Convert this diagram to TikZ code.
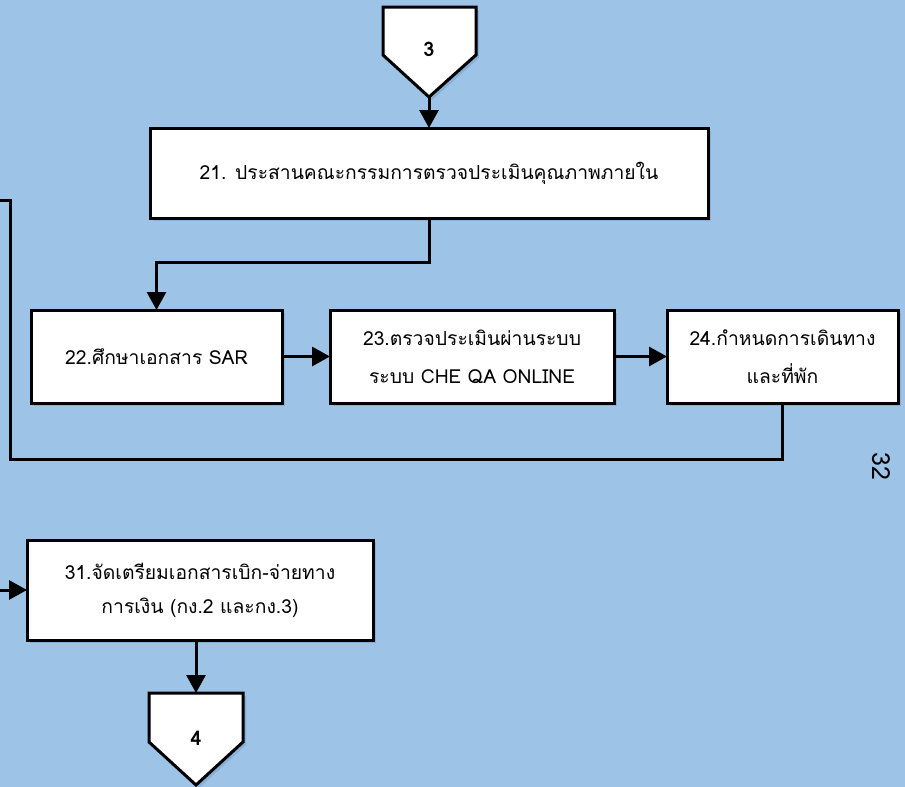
\documentclass[tikz,border=0pt]{standalone}
\usepackage{fontspec}
\newfontfamily\thaifont[Script=Thai]{Loma}
\usetikzlibrary{arrows.meta,shadows}
\definecolor{bgblue}{HTML}{9DC3E6}
\definecolor{shadowblue}{HTML}{88AFD6}
\begin{document}
\begin{tikzpicture}[x=1pt,y=-1pt,
  stepbox/.style={draw=black,fill=white,line width=3pt,inner sep=2pt,outer sep=0pt,
    align=center,font=\thaifont\fontsize{19.3pt}{38pt}\selectfont,
    drop shadow={shadow xshift=3pt,shadow yshift=-3pt,fill=shadowblue,opacity=1}},
  flow/.style={line width=3pt,-{Triangle[length=18pt,width=19pt]}},
  plainline/.style={line width=3pt},
  pent/.style={draw=black,fill=white,line width=3pt,line join=miter,
    drop shadow={shadow xshift=3pt,shadow yshift=-3pt,fill=shadowblue,opacity=1}},
  pentlabel/.style={font=\thaifont\bfseries\fontsize{20pt}{22pt}\selectfont,inner sep=0pt}]
% background
\fill[bgblue] (0,0) rectangle (905,787);
\useasboundingbox (0,0) rectangle (905,787);

% off-page connector 3
\path[pent] (383,7) -- (476,7) -- (476,55) -- (429,97) -- (383,55) -- cycle;
\node[pentlabel] (p3) at (429,49) {3};
\coordinate (p3tip) at (429,97);

% process boxes
\node[stepbox,minimum width=558pt,minimum height=90pt] (b21) at (429,173)
  {21. ประสานคณะกรรมการตรวจประเมินคุณภาพภายใน};
\node[stepbox,minimum width=251pt,minimum height=93pt] (b22) at (156.5,356.5)
  {22.ศึกษาเอกสาร SAR};
\node[stepbox,minimum width=284pt,minimum height=93pt] (b23) at (472,356.5)
  {23.ตรวจประเมินผ่านระบบ\\ระบบ CHE QA ONLINE};
\node[stepbox,minimum width=231pt,minimum height=93pt] (b24) at (782.5,356.5)
  {24.กำหนดการเดินทาง\\และที่พัก};
\node[stepbox,minimum width=346pt,minimum height=100pt,
  font=\thaifont\fontsize{19.3pt}{34pt}\selectfont] (b31) at (200,590)
  {31.จัดเตรียมเอกสารเบิก-จ่ายทาง\\การเงิน (กง.2 และกง.3)};

% off-page connector 4
\path[pent] (149,693) -- (243,693) -- (243,742) -- (196,785) -- (149,742) -- cycle;
\node[pentlabel] (p4) at (196,738) {4};
\coordinate (p4top) at (196,693);

% page number
\node[font=\thaifont\fontsize{25pt}{27pt}\selectfont,rotate=-90] (pg) at (881,466) {32};

% connectors
\coordinate (loopend) at (-5,200);
\coordinate (feed31) at (-5,590);
\draw[flow] (p3tip) -- (b21.north);
\draw[flow] (b21.south) -- ++(0,44) -| (b22.north);
\draw[flow] (b22.east) -- (b23.west);
\draw[flow] (b23.east) -- (b24.west);
\draw[plainline] (b24.south) -- ++(0,56) -| (10,200) -- (loopend);
\draw[flow] (feed31) -- (b31.west);
\draw[flow] (b31.south -| p4top) -- (p4top);
\end{tikzpicture}
\end{document}
